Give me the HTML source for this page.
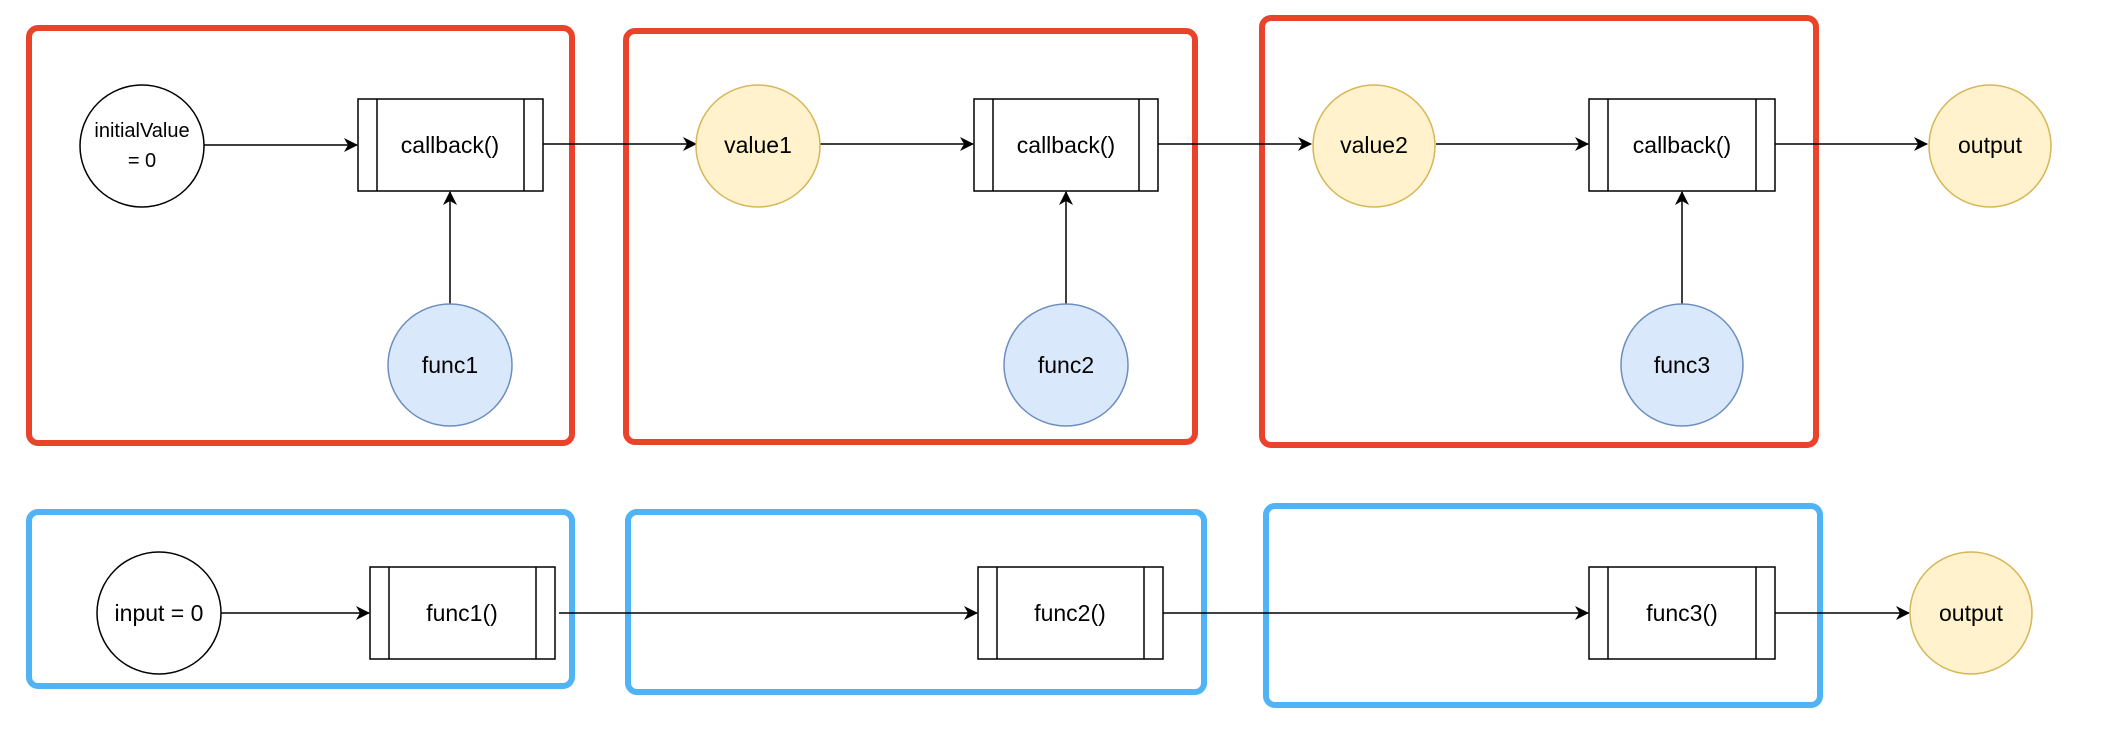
<!DOCTYPE html>
<html><head><meta charset="utf-8"><style>
html,body{margin:0;padding:0;background:#fff;}
svg{display:block;}
text{font-family:"Liberation Sans",Arial,sans-serif;font-size:23px;fill:#000;text-anchor:middle;dominant-baseline:central;}
</style></head><body>
<svg width="2114" height="750" viewBox="0 0 2114 750" xmlns="http://www.w3.org/2000/svg">
<defs>
<marker id="a" viewBox="0 0 14 14" refX="13" refY="7" markerWidth="14" markerHeight="14" markerUnits="userSpaceOnUse" orient="auto">
<path d="M0,0 L14,7 L0,14 L4,7 Z" fill="#000"/>
</marker>
</defs>
<g fill="none" stroke-width="6">
<rect x="29" y="28" width="543" height="415" rx="9" stroke="#e9442b"/>
<rect x="626" y="31" width="569" height="411" rx="9" stroke="#e9442b"/>
<rect x="1262" y="18" width="554" height="427" rx="9" stroke="#e9442b"/>
<rect x="29" y="512" width="543" height="174" rx="9" stroke="#4fb3f6"/>
<rect x="628" y="512" width="576" height="180" rx="9" stroke="#4fb3f6"/>
<rect x="1266" y="506" width="554" height="199" rx="9" stroke="#4fb3f6"/>
</g>
<g stroke="#000" stroke-width="1.5" fill="none">
<line x1="204" y1="145" x2="357" y2="145" marker-end="url(#a)"/>
<line x1="543" y1="144" x2="696" y2="144" marker-end="url(#a)"/>
<line x1="820" y1="144" x2="973" y2="144" marker-end="url(#a)"/>
<line x1="1158" y1="144" x2="1311" y2="144" marker-end="url(#a)"/>
<line x1="1436" y1="144" x2="1588" y2="144" marker-end="url(#a)"/>
<line x1="1775" y1="144" x2="1927" y2="144" marker-end="url(#a)"/>
<line x1="450" y1="304" x2="450" y2="192" marker-end="url(#a)"/>
<line x1="1066" y1="304" x2="1066" y2="192" marker-end="url(#a)"/>
<line x1="1682" y1="304" x2="1682" y2="192" marker-end="url(#a)"/>
<line x1="221" y1="613" x2="369" y2="613" marker-end="url(#a)"/>
<line x1="559" y1="613" x2="977" y2="613" marker-end="url(#a)"/>
<line x1="1163" y1="613" x2="1588" y2="613" marker-end="url(#a)"/>
<line x1="1775" y1="613" x2="1909" y2="613" marker-end="url(#a)"/>
</g>
<g stroke="#000" stroke-width="1.5" fill="#fff">
<ellipse cx="142" cy="146" rx="62" ry="61"/>
<ellipse cx="159" cy="613" rx="62" ry="61"/>
</g>
<g stroke="#d6b656" stroke-width="1.5" fill="#fff2cc">
<ellipse cx="758" cy="146" rx="62" ry="61"/>
<ellipse cx="1374" cy="146" rx="61" ry="61"/>
<ellipse cx="1990" cy="146" rx="61" ry="61"/>
<ellipse cx="1971" cy="613" rx="61" ry="61"/>
</g>
<g stroke="#6c8ebf" stroke-width="1.5" fill="#dae8fc">
<ellipse cx="450" cy="365" rx="62" ry="61"/>
<ellipse cx="1066" cy="365" rx="62" ry="61"/>
<ellipse cx="1682" cy="365" rx="61" ry="61"/>
</g>
<g stroke="#000" stroke-width="1.5" fill="#fff">
<rect x="358" y="99" width="185" height="92"/><line x1="377" y1="99" x2="377" y2="191"/><line x1="524" y1="99" x2="524" y2="191"/>
<rect x="974" y="99" width="184" height="92"/><line x1="993" y1="99" x2="993" y2="191"/><line x1="1139" y1="99" x2="1139" y2="191"/>
<rect x="1589" y="99" width="186" height="92"/><line x1="1608" y1="99" x2="1608" y2="191"/><line x1="1756" y1="99" x2="1756" y2="191"/>
<rect x="370" y="567" width="185" height="92"/><line x1="389" y1="567" x2="389" y2="659"/><line x1="536" y1="567" x2="536" y2="659"/>
<rect x="978" y="567" width="185" height="92"/><line x1="997" y1="567" x2="997" y2="659"/><line x1="1144" y1="567" x2="1144" y2="659"/>
<rect x="1589" y="567" width="186" height="92"/><line x1="1608" y1="567" x2="1608" y2="659"/><line x1="1756" y1="567" x2="1756" y2="659"/>
</g>
<text x="142" y="131" style="font-size:20px">initialValue</text>
<text x="142" y="161" style="font-size:20px">= 0</text>
<text x="450" y="145">callback()</text>
<text x="1066" y="145">callback()</text>
<text x="1682" y="145">callback()</text>
<text x="758" y="145">value1</text>
<text x="1374" y="145">value2</text>
<text x="1990" y="145">output</text>
<text x="450" y="365">func1</text>
<text x="1066" y="365">func2</text>
<text x="1682" y="365">func3</text>
<text x="159" y="613">input = 0</text>
<text x="462" y="613">func1()</text>
<text x="1070" y="613">func2()</text>
<text x="1682" y="613">func3()</text>
<text x="1971" y="613">output</text>
</svg>
</body></html>
